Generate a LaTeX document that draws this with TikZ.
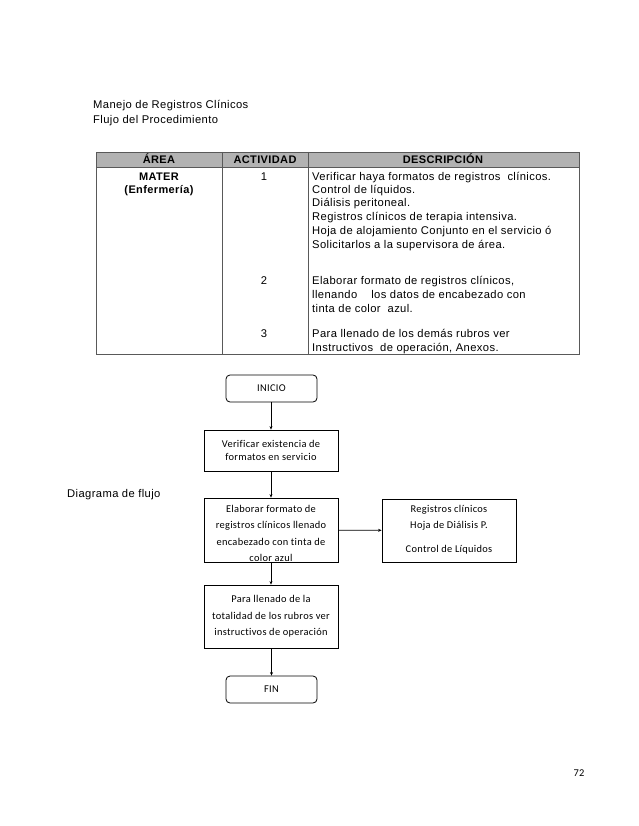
\documentclass[tikz,border=0pt]{standalone}
\usepackage{fontspec}
\setmainfont{Liberation Sans}[LetterSpace=3.5]
\newfontfamily\calfont{Carlito}[LetterSpace=3,Ligatures=NoCommon]
\usetikzlibrary{arrows.meta}
\begin{document}
\begin{tikzpicture}[x=1pt,y=-1pt,
  arial/.style={font=\fontsize{11.2}{13}\selectfont, inner sep=0pt},
  hdr/.style={font=\bfseries\fontsize{11}{13}\selectfont, inner sep=0pt, anchor=base},
  desc/.style={arial, anchor=base west},
  grid/.style={draw=black!65, line width=0.9pt},
  fbox/.style={draw, line width=0.8pt, minimum width=134pt, inner sep=0pt},
  rbox/.style={fbox, rounded corners=4pt, minimum width=91pt, minimum height=27pt},
  ftext/.style={font=\calfont\fontsize{10.4}{16.5}\selectfont, align=center, inner sep=0pt},
  arr/.style={line width=0.8pt, -{Stealth[length=3.5pt,width=3pt]}}
]
\useasboundingbox[fill=white] (0,0) rectangle (638,826);

% page header
\node[arial, anchor=base west] (t1) at (93,109) {Manejo de Registros Clínicos};
\node[arial, anchor=base west] (t2) at (93,124) {Flujo del Procedimiento};

% table
\fill[black!30] (96,152) rectangle (579,167);
\draw[grid] (96,152) rectangle (579,354);
\draw[grid] (96,167) -- (579,167);
\draw[grid] (222,152) -- (222,354);
\draw[grid] (308,152) -- (308,354);

\node[hdr] (hA) at (159,164) {ÁREA};
\node[hdr] (hB) at (265,164) {ACTIVIDAD};
\node[hdr] (hC) at (443,164) {DESCRIPCIÓN};
\node[hdr] (a1) at (159,181) {MATER};
\node[hdr] (a2) at (159,194) {(Enfermería)};

\node[arial, anchor=base] (n1) at (264,181) {1};
\node[arial, anchor=base] (n2) at (264,284) {2};
\node[arial, anchor=base] (n3) at (264,337) {3};

\node[desc] (d1) at (312,181) {Verificar haya formatos de registros\ \ clínicos.};
\node[desc] (d2) at (312,194) {Control de líquidos.};
\node[desc] (d3) at (312,207) {Diálisis peritoneal.};
\node[desc] (d4) at (312,220) {Registros clínicos de terapia intensiva.};
\node[desc] (d5) at (312,234) {Hoja de alojamiento Conjunto\ en el servicio ó};
\node[desc] (d6) at (312,248) {Solicitarlos a la supervisora de área.};
\node[desc] (d7) at (312,284) {Elaborar formato de registros clínicos,};
\node[desc] (d8) at (312,298) {llenando\ \ \ \ los datos de encabezado con};
\node[desc] (d9) at (312,312) {tinta de color\ \ azul.};
\node[desc] (d10) at (312,337) {Para llenado de los demás rubros ver};
\node[desc] (d11) at (312,351) {Instructivos\ \ de operación, Anexos.};

% flowchart
\node[rbox] (ini) at (271.5,388.5) {};
\node[ftext] (iniT) at (ini.center) {INICIO};

\node[fbox, minimum height=41pt] (b2) at (271,450.5) {};
\node[ftext, font=\calfont\fontsize{10.4}{13}\selectfont] (b2T) at (b2.center) {Verificar existencia de\\formatos en servicio};

\node[fbox, minimum height=64pt] (b3) at (271,530) {};
\begin{scope}
  \clip (b3.south west) rectangle (b3.north east);
  \node[ftext, anchor=north] (b3T) at (271,505) {Elaborar formato de\\registros clínicos llenado\\encabezado con tinta de\\color azul};
\end{scope}

\node[fbox, minimum height=63pt] (b4) at (449,530.5) {};
\node[ftext, font=\calfont\fontsize{10.4}{16}\selectfont, anchor=north] (b4T) at (449,505) {Registros clínicos\\Hoja de Diálisis P.\\[8pt]Control de Líquidos};

\node[fbox, minimum height=63pt] (b5) at (271,616.5) {};
\node[ftext] (b5T) at (b5.center) {Para llenado de la\\totalidad de los rubros ver\\instructivos de operación};

\node[rbox] (fin) at (271.5,689.5) {};
\node[ftext] (finT) at (fin.center) {FIN};

\draw[arr] (ini.south -| b2.north) -- (b2.north);
\draw[arr] (b2) -- (b3);
\draw[arr] (b3) -- (b4);
\draw[arr] (b3) -- (b5);
\draw[arr] (b5.south) -- (b5.south -| fin.north) -- (fin.north);

\node[arial, anchor=base west] (dg) at (67,497) {Diagrama de flujo};
\node[ftext] (pg) at (579,773) {72};
\end{tikzpicture}
\end{document}
